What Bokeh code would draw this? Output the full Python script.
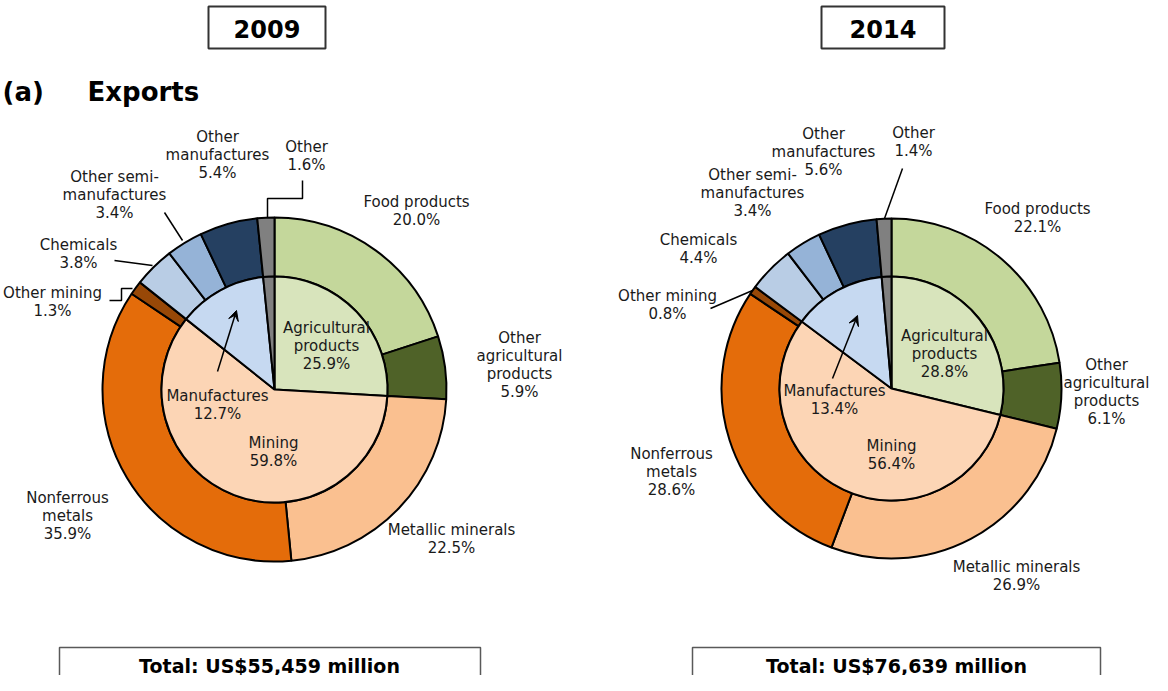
import numpy as np
from bokeh.plotting import figure
from bokeh.models import Range1d, Arrow, VeeHead
from bokeh.core.properties import value
from bokeh.embed import file_html
from bokeh.resources import INLINE

# ---------------- data ----------------
years = ["2009", "2014"]
totals = ["Total: US$55,459 million", "Total: US$76,639 million"]

inner_names = ["Agricultural\nproducts", "Mining", "Manufactures", "Other"]
inner_2009 = [25.9, 59.8, 12.7, 1.6]
inner_2014 = [28.8, 56.4, 13.4, 1.4]

outer_names = ["Food products", "Other\nagricultural\nproducts", "Metallic minerals",
               "Nonferrous\nmetals", "Other mining", "Chemicals",
               "Other semi-\nmanufactures", "Other\nmanufactures", "Other"]
outer_parent = [0, 0, 1, 1, 1, 2, 2, 2, 3]
outer_2009 = [20.0, 5.9, 22.5, 35.9, 1.3, 3.8, 3.4, 5.4, 1.6]
outer_2014 = [22.1, 6.1, 26.9, 28.6, 0.8, 4.4, 3.4, 5.6, 1.4]

# ---------------- styles ----------------
inner_colors = ["#d8e4bc", "#fcd5b5", "#c6d9f1", "#808080"]
outer_colors = ["#c4d79b", "#4f6228", "#fac090", "#e46c0a", "#984807",
                "#b9cde5", "#95b3d7", "#254061", "#808080"]
FONT = value("DejaVu Sans")
TXT = "#1a1a1a"

W, H = 1152, 675
def X(px): return px - 8
def Y(py): return 683 - py

layouts = [
    dict(center=(282, 397), R=172, r=113,
         title_box=(216, 333, 14, 56), title_xy=(274.5, 36),
         total_box=(67, 488, 655, 720), total_xy=(277, 673),
         outer_lbl=[(424, 209), (527, 345), (459, 537), (75, 505), (60, 300),
                    (86, 252), (122, 184), (225, 144), (314, 154)],
         inner_lbl=[(334, 335), (281, 450), (225, 403), None],
         leaders=[[(275, 225), (275, 206), (310, 206), (310, 188)],
                  [(172, 220), (190, 248)],
                  [(122, 268), (160, 273)],
                  [(117, 308), (129, 308), (129, 296), (140, 296)]],
         arrow=((225, 379), (244, 318))),
    dict(center=(899, 396), R=170, r=112,
         title_box=(829, 952, 14, 56), title_xy=(890.5, 36),
         total_box=(700, 1108, 655, 720), total_xy=(904, 673),
         outer_lbl=[(1045, 216), (1114, 372), (1024, 574), (679, 461), (675, 303),
                    (706, 247), (760, 182), (831, 141), (921, 140)],
         inner_lbl=[(952, 343), (899, 453), (842, 398), None],
         leaders=[[(910, 176), (892, 226)],
                  [(718, 316), (760, 298)]],
         arrow=((840, 386), (865, 323))),
]

p = figure(width=W, height=H, x_range=Range1d(0, W), y_range=Range1d(0, H),
           output_backend="svg", toolbar_location=None, min_border=0,
           x_axis_type=None, y_axis_type=None)
p.grid.visible = False
p.outline_line_color = None
p.background_fill_color = "white"

def put_text(lines, px, py, size, bold=False, lh=18):
    for i, ln in enumerate(lines):
        p.text(x=[X(px)], y=[Y(py + i * lh)], text=[ln], text_font=FONT,
               text_font_size=size, text_font_style="bold" if bold else "normal",
               text_align="center", text_baseline="middle", text_color=TXT)

p.text(x=[X(10)], y=[Y(99)], text=["(a)"], text_font=FONT, text_font_size="26px",
       text_font_style="bold", text_align="left", text_baseline="middle", text_color="black")
p.text(x=[X(95)], y=[Y(99)], text=["Exports"], text_font=FONT, text_font_size="26px",
       text_font_style="bold", text_align="left", text_baseline="middle", text_color="black")

for k, (inner, outer) in enumerate([(inner_2009, outer_2009), (inner_2014, outer_2014)]):
    L = layouts[k]
    cx, cy = L["center"]
    tot = sum(inner)
    inner_start = np.concatenate([[0], np.cumsum(inner)[:-1]]) / tot
    inner_end = np.cumsum(inner) / tot

    # outer segments nested inside the span of their parent category
    o_start, o_end = [], []
    for i, v in enumerate(outer):
        par = outer_parent[i]
        sibs = [j for j in range(len(outer)) if outer_parent[j] == par]
        psum = sum(outer[j] for j in sibs)
        before = sum(outer[j] for j in sibs if j < i)
        span = inner_end[par] - inner_start[par]
        o_start.append(inner_start[par] + span * before / psum)
        o_end.append(inner_start[par] + span * (before + v) / psum)
    o_start = np.array(o_start); o_end = np.array(o_end)

    p.annular_wedge(x=X(cx), y=Y(cy), inner_radius=L["r"], outer_radius=L["R"],
                    start_angle=np.pi / 2 - 2 * np.pi * o_start,
                    end_angle=np.pi / 2 - 2 * np.pi * o_end, direction="clock",
                    fill_color=outer_colors, line_color="black", line_width=2)
    p.wedge(x=X(cx), y=Y(cy), radius=L["r"],
            start_angle=np.pi / 2 - 2 * np.pi * inner_start,
            end_angle=np.pi / 2 - 2 * np.pi * inner_end, direction="clock",
            fill_color=inner_colors, line_color="black", line_width=2)

    # leader lines
    for pts in L["leaders"]:
        p.line([X(a) for a, b in pts], [Y(b) for a, b in pts], line_color="black", line_width=1.5)
    (ax0, ay0), (ax1, ay1) = L["arrow"]
    p.add_layout(Arrow(end=VeeHead(size=10, fill_color="black", line_color="black", line_width=1),
                       x_start=X(ax0), y_start=Y(ay0), x_end=X(ax1), y_end=Y(ay1),
                       line_color="black", line_width=1.5))

    # labels
    for i, v in enumerate(outer):
        px, py = L["outer_lbl"][i]
        put_text(outer_names[i].split("\n") + [f"{v:.1f}%"], px, py, "15px")
    for i, v in enumerate(inner):
        if L["inner_lbl"][i] is None:
            continue
        px, py = L["inner_lbl"][i]
        put_text(inner_names[i].split("\n") + [f"{v:.1f}%"], px, py, "15px")

    # title box
    l, r_, t, b = L["title_box"]
    p.quad(left=X(l), right=X(r_), top=Y(t), bottom=Y(b), fill_color=None,
           line_color="#333333", line_width=2)
    tx, ty = L["title_xy"]
    p.text(x=[X(tx)], y=[Y(ty)], text=[years[k]], text_font=FONT, text_font_size="24px",
           text_font_style="bold", text_align="center", text_baseline="middle", text_color="black")
    # total box
    l, r_, t, b = L["total_box"]
    p.quad(left=X(l), right=X(r_), top=Y(t), bottom=Y(b), fill_color=None,
           line_color="#595959", line_width=1.5)
    tx, ty = L["total_xy"]
    p.text(x=[X(tx)], y=[Y(ty)], text=[totals[k]], text_font=FONT, text_font_size="19px",
           text_font_style="bold", text_align="center", text_baseline="middle", text_color="black")

open("out.html", "w").write(file_html(p, INLINE))
